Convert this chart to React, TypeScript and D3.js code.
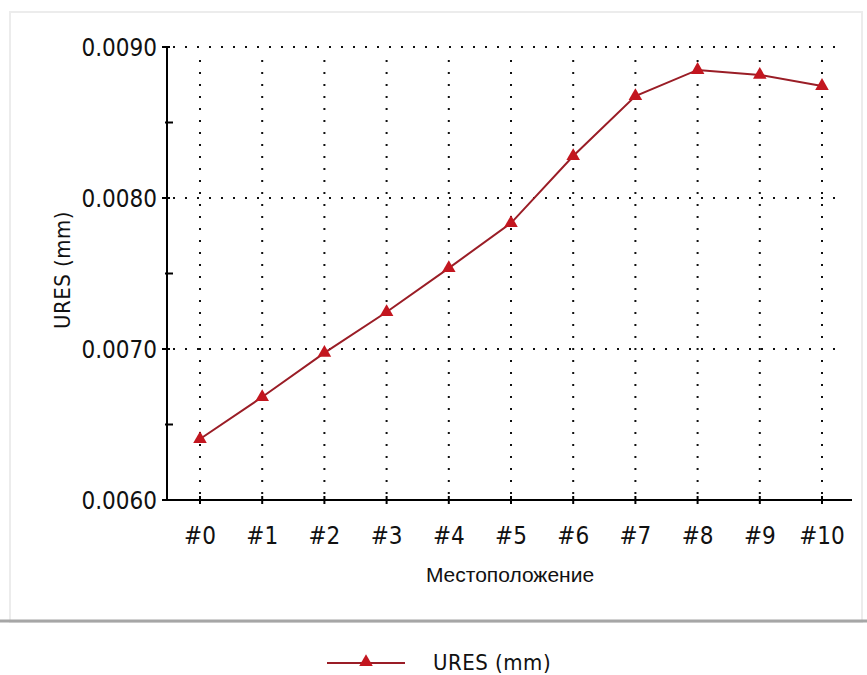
import React from 'react';
import * as d3 from 'd3';

const categories = ['#0', '#1', '#2', '#3', '#4', '#5', '#6', '#7', '#8', '#9', '#10'];
const uresValues = [0.006404, 0.006682, 0.006974, 0.007245, 0.007536, 0.007834, 0.008278, 0.008675, 0.008848, 0.008815, 0.008742];
const yMajorTicks = [0.006, 0.007, 0.008, 0.009];
const yMinorTicks = [0.0065, 0.0075, 0.0085];
const yTitle = 'URES (mm)';
const xTitle = 'Местоположение';
const legendLabel = 'URES (mm)';

const W = 867;
const H = 675;
const axisLeft = 167;
const axisRight = 852;
const axisBottom = 500;
const axisTop = 47;

const tickFont = '"DejaVu Sans Condensed", "Liberation Sans Narrow", sans-serif';
const lineColor = '#9a1d26';
const markerColor = '#c3161f';

const App = () => {
  const x = d3.scalePoint<string>().domain(categories).range([200, 822]);
  const y = d3.scaleLinear().domain([0.006, 0.009]).range([axisBottom, axisTop]);

  const points = categories.map((c, i) => ({ c, v: uresValues[i] }));
  const line = d3.line<{ c: string; v: number }>()
    .x(d => x(d.c) as number)
    .y(d => y(d.v));

  const tri = d3.symbol().type(d3.symbolTriangle).size(80)();

  return (
    <svg width={W} height={H} style={{ position: 'absolute', left: 0, top: 0, background: '#fff' }}>
      {/* panel frame */}
      <rect x={10} y={12} width={852} height={610} fill="#fff" stroke="#ececec" strokeWidth={2} />
      <line x1={0} x2={W} y1={621} y2={621} stroke="#a6a6a6" strokeWidth={3} />

      {/* grid */}
      <g stroke="#111" strokeWidth={2} strokeDasharray="2 10">
        {yMajorTicks.filter(t => t !== 0.006).map(t => (
          <line key={t} x1={axisLeft + 6} x2={845} y1={y(t)} y2={y(t)} />
        ))}
        {categories.map(c => (
          <line key={c} x1={x(c)} x2={x(c)} y1={axisBottom - 6} y2={axisTop + 8} />
        ))}
      </g>

      {/* axes */}
      <line x1={axisLeft} x2={axisLeft} y1={axisTop} y2={axisBottom + 1} stroke="#000" strokeWidth={2} />
      <line x1={axisLeft - 1} x2={axisRight} y1={axisBottom} y2={axisBottom} stroke="#000" strokeWidth={2} />
      {yMajorTicks.map(t => (
        <g key={t}>
          <line x1={axisLeft - 5} x2={axisLeft + 3} y1={y(t)} y2={y(t)} stroke="#000" strokeWidth={2} />
          <text x={157} y={y(t)} dy="0.36em" textAnchor="end" fontFamily={tickFont} fontSize={24} fill="#111">
            {t.toFixed(4)}
          </text>
        </g>
      ))}
      {yMinorTicks.map(t => (
        <line key={t} x1={axisLeft - 2} x2={axisLeft + 6} y1={y(t)} y2={y(t)} stroke="#000" strokeWidth={2} />
      ))}
      {categories.map(c => (
        <g key={c}>
          <line x1={x(c)} x2={x(c)} y1={axisBottom - 4} y2={axisBottom + 4} stroke="#000" strokeWidth={2} />
          <text x={x(c)} y={535} dy="0.36em" textAnchor="middle" fontFamily={tickFont} fontSize={24} fill="#111">
            {c}
          </text>
        </g>
      ))}

      {/* titles */}
      <text transform={`translate(62,270) rotate(-90)`} dy="0.36em" textAnchor="middle" fontFamily={tickFont} fontSize={22} letterSpacing={0.5} fill="#111">
        {yTitle}
      </text>
      <text x={510} y={574} dy="0.36em" textAnchor="middle" fontFamily="'Liberation Sans', Arial, sans-serif" fontSize={21} fill="#111">
        {xTitle}
      </text>

      {/* series */}
      <path d={line(points) ?? ''} fill="none" stroke={lineColor} strokeWidth={2} />
      {points.map(p => (
        <path key={p.c} d={tri ?? ''} transform={`translate(${x(p.c)},${y(p.v)})`} fill={markerColor} />
      ))}

      {/* legend */}
      <line x1={327} x2={405} y1={663} y2={663} stroke={lineColor} strokeWidth={2} />
      <path d={tri ?? ''} transform="translate(366,662)" fill={markerColor} />
      <text x={433} y={662} dy="0.36em" fontFamily={tickFont} fontSize={22} letterSpacing={0.5} fill="#111">
        {legendLabel}
      </text>
    </svg>
  );
};

export default App;
